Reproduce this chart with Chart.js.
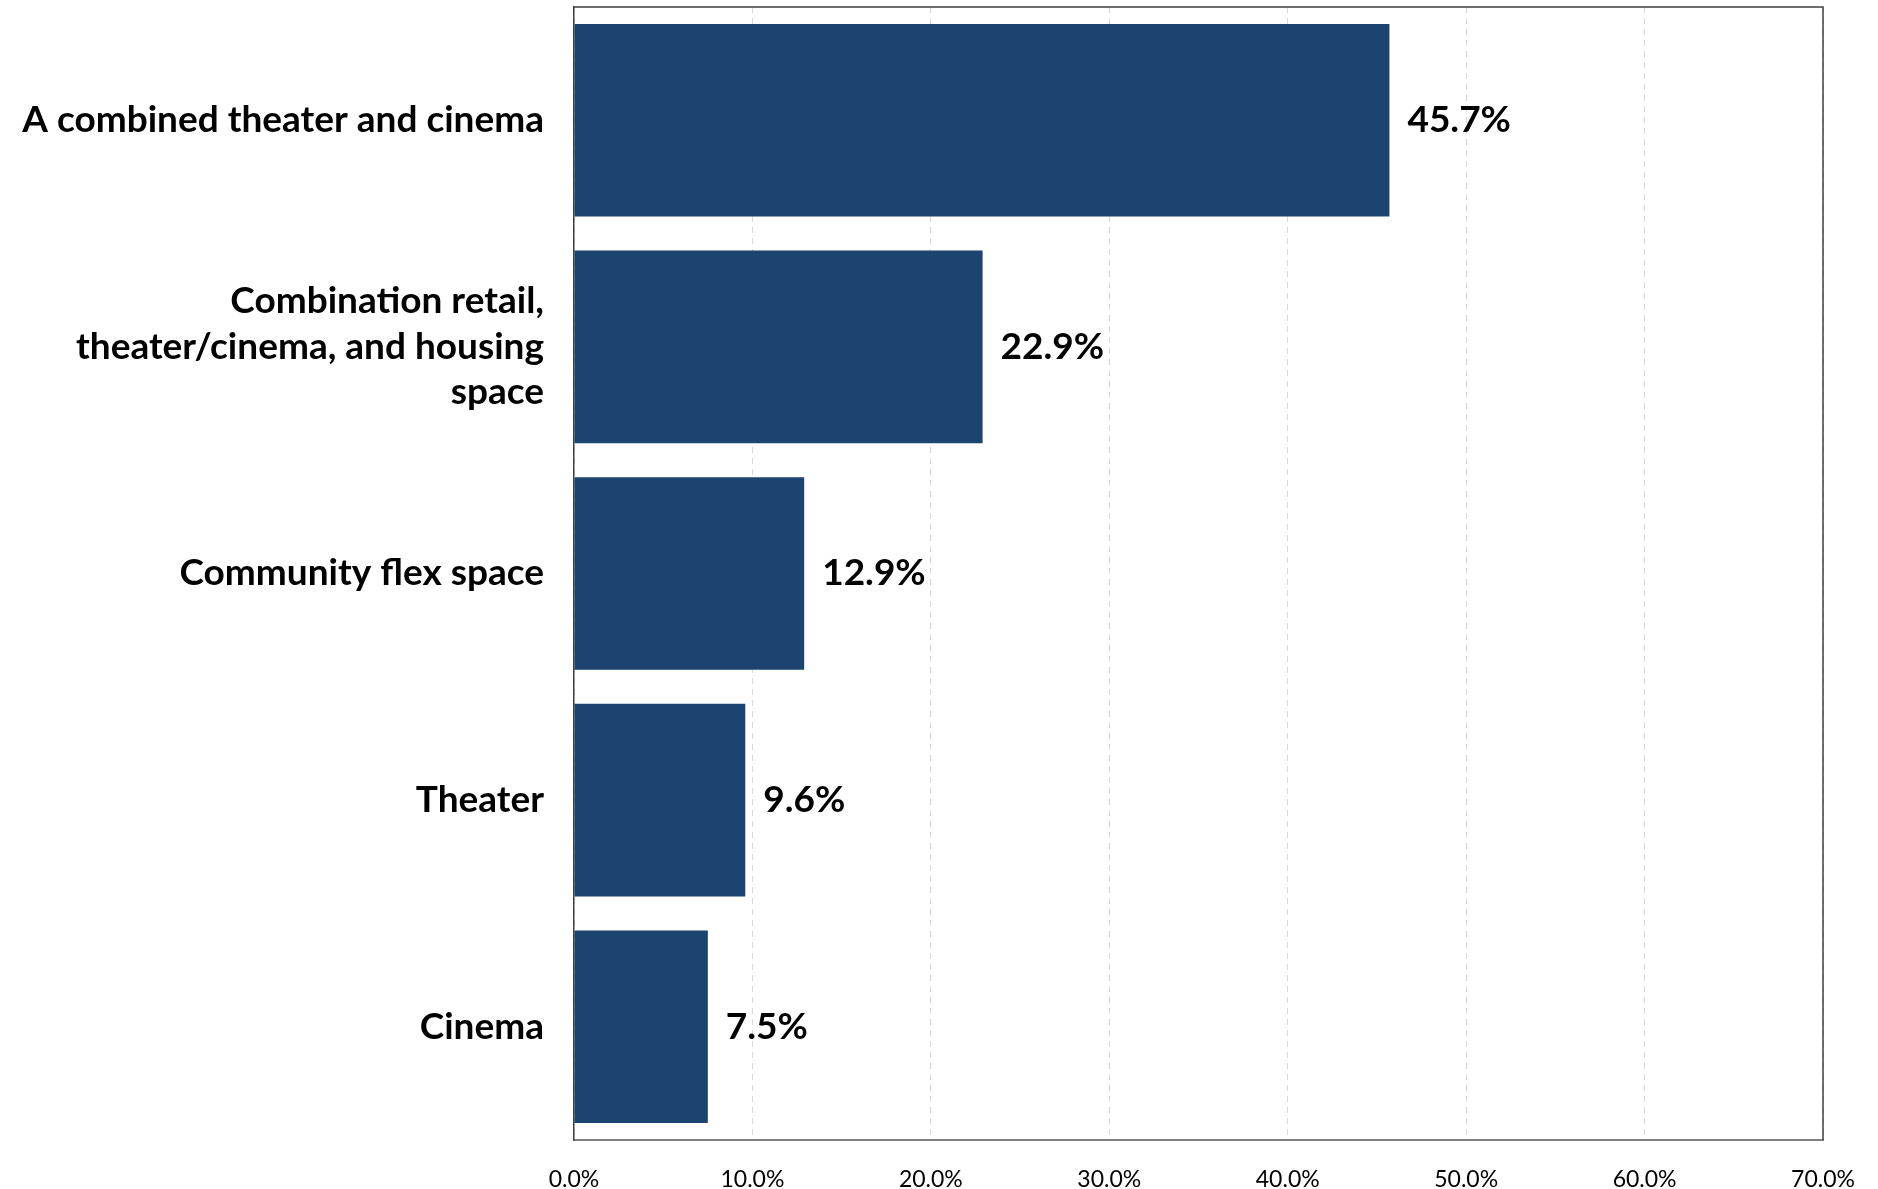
<!DOCTYPE html>
<html>
<head>
<meta charset="utf-8">
<script src="https://cdn.jsdelivr.net/npm/chart.js@4"></script>
<style>
  html, body { margin: 0; padding: 0; background: #ffffff; }
  #wrap { width: 1878px; height: 1189px; }
</style>
</head>
<body>
<div id="wrap"><canvas id="myChart" width="1878" height="1189"></canvas></div>
<script>
// categories, top to bottom
var categories = [
    'A combined theater and cinema',
    ['Combination retail,', 'theater/cinema, and housing', 'space'],
    'Community flex space',
    'Theater',
    'Cinema'
];
var shares = [45.7, 22.9, 12.9, 9.6, 7.5];
var xTicks = [0, 10, 20, 30, 40, 50, 60, 70];

var barColor = '#1b4470';
var labelFont = 'Lato, "Open Sans", sans-serif';

// value labels at the end of each bar
var valueLabels = {
    id: 'valueLabels',
    afterDatasetsDraw: function(chart) {
        var ctx = chart.ctx;
        var meta = chart.getDatasetMeta(0);
        ctx.save();
        ctx.font = 'bold 37px ' + labelFont;
        ctx.fillStyle = '#000000';
        ctx.textAlign = 'left';
        ctx.textBaseline = 'middle';
        meta.data.forEach(function(bar, i) {
            ctx.fillText(shares[i].toFixed(1) + '%', bar.x + 18, bar.y);
        });
        ctx.restore();
    }
};

// top and right edges of the plot frame
var frame = {
    id: 'frame',
    afterDraw: function(chart) {
        var a = chart.chartArea;
        var ctx = chart.ctx;
        ctx.save();
        ctx.strokeStyle = '#404040';
        ctx.lineWidth = 1.5;
        ctx.beginPath();
        ctx.moveTo(a.left, a.top);
        ctx.lineTo(a.right, a.top);
        ctx.lineTo(a.right, a.bottom);
        ctx.stroke();
        ctx.restore();
    }
};

var ctx = document.getElementById('myChart');
var chart = new Chart(ctx, {
    type: 'bar',
    data: {
        labels: categories,
        datasets: [{
            data: shares,
            backgroundColor: barColor,
            borderWidth: 0,
            barPercentage: 0.85,
            categoryPercentage: 1.0
        }]
    },
    options: {
        indexAxis: 'y',
        responsive: false,
        animation: false,
        layout: { padding: { top: 7, right: 55, left: 0, bottom: 0 } },
        plugins: {
            legend: { display: false },
            tooltip: { enabled: false }
        },
        scales: {
            x: {
                min: 0,
                max: 70,
                afterBuildTicks: function(scale) {
                    scale.ticks = xTicks.map(function(v) { return { value: v }; });
                },
                afterFit: function(scale) {
                    scale.height = 49;
                    scale.paddingLeft = 0;
                    scale.paddingRight = 0;
                },
                grid: {
                    color: '#d9d9d9',
                    lineWidth: 1,
                    drawTicks: false
                },
                border: { display: true, color: '#808080', width: 2, dash: [6, 5], dashOffset: 0 },
                ticks: {
                    padding: 26,
                    color: '#000000',
                    font: { family: labelFont, size: 23 },
                    callback: function(v) { return Number(v).toFixed(1) + '%'; }
                }
            },
            y: {
                afterFit: function(scale) {
                    scale.width = 574;
                    scale.paddingTop = 0;
                    scale.paddingBottom = 0;
                },
                grid: { display: false, drawTicks: false },
                border: { display: true, color: '#404040', width: 1.5 },
                ticks: {
                    padding: 30,
                    color: '#000000',
                    font: { family: labelFont, size: 37, weight: 'bold', lineHeight: 1.23 }
                }
            }
        }
    },
    plugins: [valueLabels, frame]
});
</script>
</body>
</html>
